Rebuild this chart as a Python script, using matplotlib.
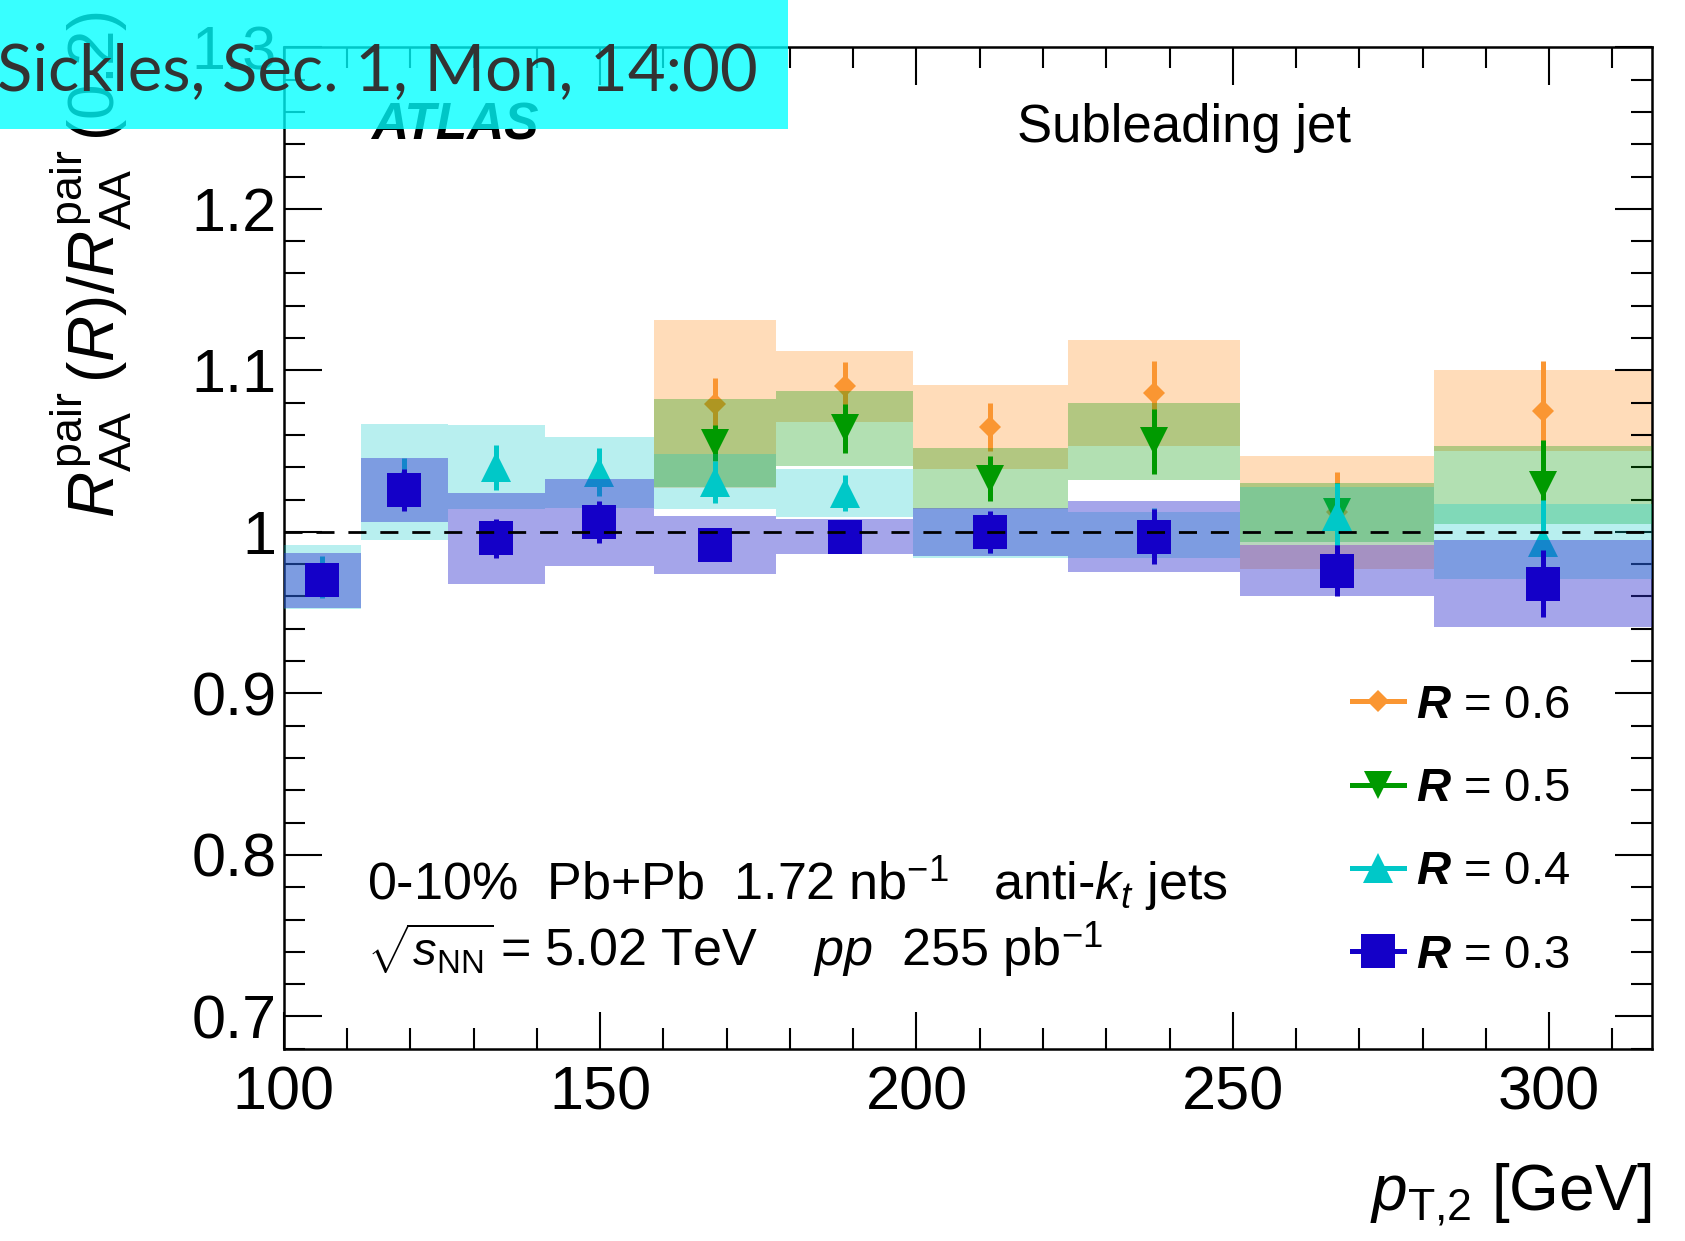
import numpy as np
import matplotlib
matplotlib.use("Agg")
from matplotlib import pyplot as plt
from matplotlib import ticker
from matplotlib.lines import Line2D
from matplotlib.patches import Rectangle

plt.rcParams['font.family'] = ['Liberation Sans', 'DejaVu Sans']
plt.rcParams['mathtext.fontset'] = 'custom'
plt.rcParams['mathtext.rm'] = 'Liberation Sans'
plt.rcParams['mathtext.sf'] = 'Liberation Sans'
plt.rcParams['mathtext.it'] = 'Liberation Sans:italic'
plt.rcParams['mathtext.bf'] = 'Liberation Sans:bold'
plt.rcParams['mathtext.bfit'] = 'Liberation Sans:bold:italic'

nan = np.nan

#%% pT,2 bins [GeV]
pt_edges = [100, 112.2, 125.9, 141.3, 158.5, 177.8, 199.5, 223.9, 251.2, 281.8, 316.2]

# ratio to R=0.2, stat error, half size of syst box
r06_val  = [nan, nan, nan, nan, 1.079, 1.090, 1.065, 1.086, 1.012, 1.075]
r06_stat = [nan, nan, nan, nan, 0.016, 0.015, 0.015, 0.020, 0.025, 0.031]
r06_syst = [nan, nan, nan, nan, 0.052, 0.022, 0.026, 0.033, 0.035, 0.025]

r05_val  = [nan, nan, nan, nan, 1.055, 1.064, 1.033, 1.056, 1.012, 1.029]
r05_stat = [nan, nan, nan, nan, 0.011, 0.015, 0.014, 0.020, 0.018, 0.028]
r05_syst = [nan, nan, nan, nan, 0.027, 0.023, 0.019, 0.024, 0.018, 0.024]

r04_val  = [0.972, 1.031, 1.040, 1.037, 1.031, 1.024, 0.999, 0.998, 1.010, 0.994]
r04_stat = [0.013, 0.015, 0.014, 0.015, 0.013, 0.011, 0.012, 0.017, 0.020, 0.026]
r04_syst = [0.020, 0.036, 0.026, 0.022, 0.017, 0.015, 0.015, 0.014, 0.018, 0.023]

r03_val  = [0.970, 1.026, 0.996, 1.006, 0.992, 0.997, 1.000, 0.997, 0.976, 0.968]
r03_stat = [0.009, 0.013, 0.012, 0.013, 0.009, 0.009, 0.013, 0.017, 0.016, 0.021]
r03_syst = [0.017, 0.020, 0.028, 0.027, 0.018, 0.011, 0.015, 0.022, 0.016, 0.027]

# label, values, stat, syst, marker color, box color, box alpha, marker, size
series = [
  ('0.6', r06_val, r06_stat, r06_syst, '#fa9632', '#ff8c1a', 0.30, 'D', 11),
  ('0.5', r05_val, r05_stat, r05_syst, '#009a00', '#009900', 0.30, 'v', 20),
  ('0.4', r04_val, r04_stat, r04_syst, '#00c8c8', '#00c8c8', 0.28, '^', 21),
  ('0.3', r03_val, r03_stat, r03_syst, '#1400c8', '#3030d0', 0.43, 's', 25),
]

edges = np.array(pt_edges)
centers = 0.5 * (edges[1:] + edges[:-1])
widths = edges[1:] - edges[:-1]

fig = plt.figure(figsize=(16.85, 12.41), dpi=100)
ax = fig.add_axes([0.1684, 0.1549, 0.8118, 0.8070])

handles = []
z = 1
for lab, val, stat, syst, col, bcol, alpha, mk, ms in series:
  val = np.array(val); stat = np.array(stat); syst = np.array(syst)
  ok = ~np.isnan(val)
  ax.bar(centers[ok], 2 * syst[ok], bottom=val[ok] - syst[ok], width=widths[ok],
         color=bcol, alpha=alpha, lw=0, zorder=z)
  ax.errorbar(centers[ok], val[ok], yerr=stat[ok], fmt=mk, color=col, ms=ms,
              mew=0, elinewidth=3.6, capsize=0, zorder=z + 1)
  handles.append(Line2D([], [], color=col, marker=mk, ms=ms, mew=0, lw=3.6,
                        label=r'$\mathbfit{R}$ = ' + lab))
  z += 2

ax.axhline(1.0, color='black', ls=(0, (6.5, 5)), lw=2.0, zorder=20)

ax.set_xlim(100, 316.2)
ax.set_ylim(0.68, 1.3)
ax.xaxis.set_major_locator(ticker.MultipleLocator(50))
ax.xaxis.set_minor_locator(ticker.MultipleLocator(10))
ax.yaxis.set_major_locator(ticker.MultipleLocator(0.1))
ax.yaxis.set_minor_locator(ticker.MultipleLocator(0.02))
ax.yaxis.set_major_formatter(ticker.FuncFormatter(lambda v, p: '%g' % round(v, 2)))
ax.tick_params(which='both', direction='in', top=True, right=True, width=1.5, labelsize=44)
ax.tick_params(which='major', length=27)
ax.tick_params(which='minor', length=15)
ax.tick_params(axis='x', pad=12)
ax.tick_params(axis='y', pad=5)
for s in ax.spines.values():
  s.set_linewidth(1.8)

ax.set_xlabel(r'$p_{\rm T{,}2}$ [GeV]', fontsize=46, loc='right', labelpad=28)

fig.text(91 / 1685, 1 - 518 / 1241,
         r'$R^{\rm pair}_{\rm AA}\,(R)/R^{\rm pair}_{\rm AA}\,(0.2)$',
         rotation=90, ha='center', va='bottom', fontsize=46)

fig.text(371 / 1685, 1 - 140 / 1241, 'ATLAS', fontsize=37, fontweight='bold',
         fontstyle='italic', va='baseline')
fig.text(1017 / 1685, 1 - 142 / 1241, 'Subleading jet', fontsize=38, va='baseline')

fig.text(367 / 1685, 1 - 900 / 1241,
         r'0-10%  Pb+Pb  1.72 nb$^{-1}$   anti-$k_{t}$ jets', fontsize=37.5, va='baseline')
fig.text(367 / 1685, 1 - 966 / 1241, r'$\sqrt{s_{\rm NN}}$', fontsize=34, va='baseline')
fig.text(500 / 1685, 1 - 966 / 1241, r'= 5.02 TeV    $pp$  255 pb$^{-1}$',
         fontsize=37.5, va='baseline')

ax.legend(handles=handles, loc='upper left', bbox_to_anchor=(1352 / 1685, 1 - 684 / 1241),
          bbox_transform=fig.transFigure, frameon=False, fontsize=34, borderpad=0,
          borderaxespad=0, handlelength=1.1, handletextpad=0.25, labelspacing=0.83)

# session banner
fig.add_artist(Rectangle((0, 1 - 129 / 1241), 788 / 1685, 129 / 1241,
                         transform=fig.transFigure, facecolor='#00ffff', alpha=0.78,
                         lw=0, zorder=30))
fig.text(-3 / 1685, 1 - 90 / 1241, 'Sickles, Sec. 1, Mon, 14:00', family='Lato',
         fontsize=47, color='#333333', va='baseline', zorder=31)

fig.savefig('out.png', dpi=100)
